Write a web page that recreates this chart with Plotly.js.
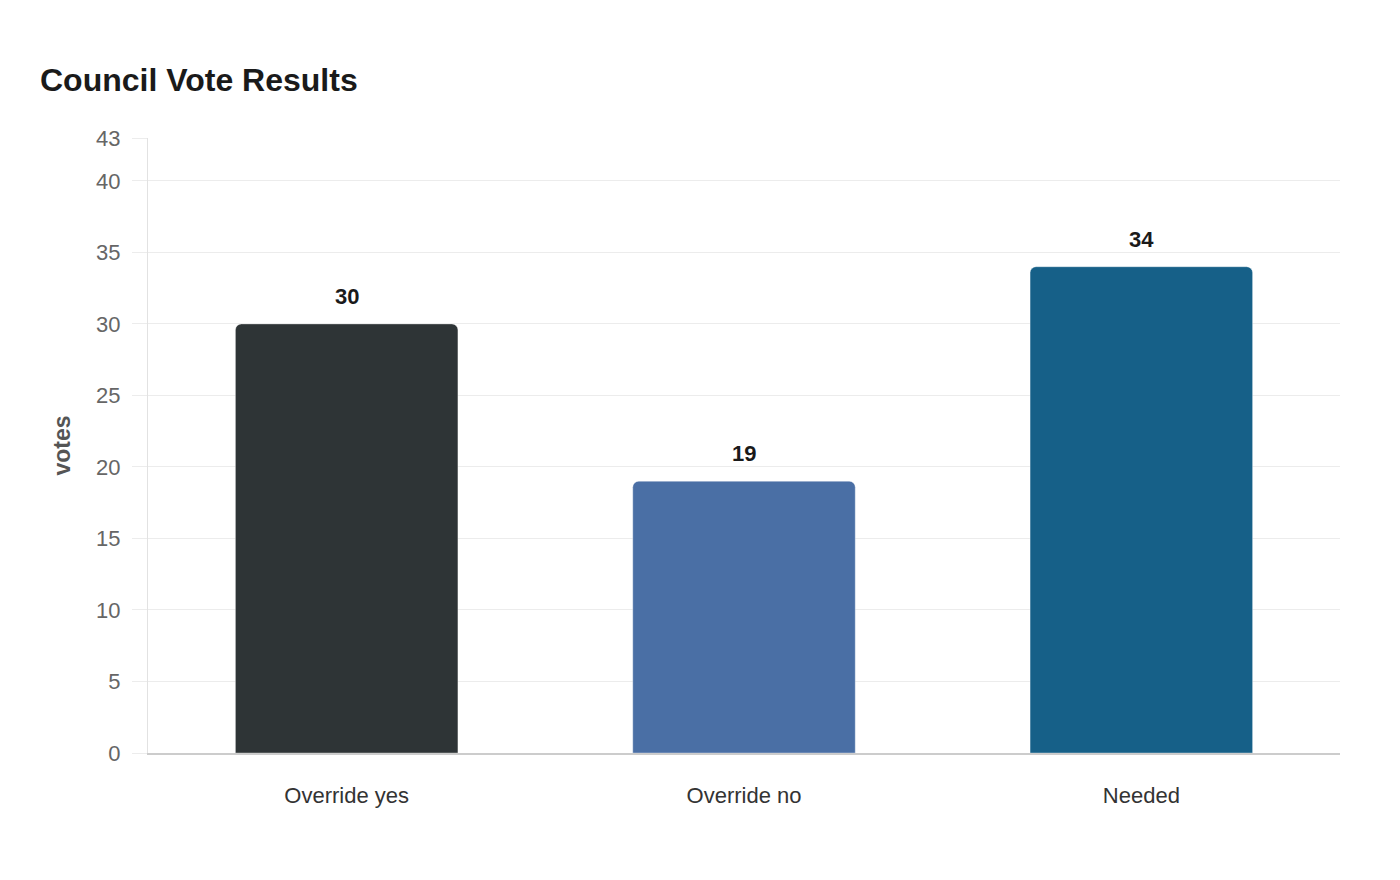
<!DOCTYPE html>
<html>
<head>
<meta charset="utf-8">
<script src="https://cdn.plot.ly/plotly-3.0.1.min.js"></script>
<style>
  html, body { margin: 0; padding: 0; background: #fff; }
  #chart { width: 1400px; height: 880px; }
</style>
</head>
<body>
<div id="chart"></div>
<script>
var categories = ['Override yes', 'Override no', 'Needed'];
var votes = [30, 19, 34];
var barColors = ['#2e3436', '#4a6fa5', '#166088'];
var yTicks = [0, 5, 10, 15, 20, 25, 30, 35, 40, 43];

var trace = {
  x: categories,
  y: votes,
  type: 'bar',
  marker: {
    color: barColors,
    cornerradius: 6,
    line: {color: 'rgba(255,255,255,0.35)', width: 1}
  },
  hoverinfo: 'x+y'
};

// value labels sit a bit above each bar
var labels = categories.map(function (c, i) {
  return {
    x: c, y: votes[i], text: String(votes[i]),
    xref: 'x', yref: 'y', yanchor: 'bottom', yshift: 13,
    showarrow: false,
    font: {family: 'Liberation Sans, Arial, sans-serif', size: 22, color: '#1a1a1a', weight: 'bold'}
  };
});

var layout = {
  width: 1400,
  height: 880,
  margin: {l: 148, r: 60, t: 138, b: 127},
  paper_bgcolor: '#fff',
  plot_bgcolor: '#fff',
  font: {family: 'Liberation Sans, Arial, sans-serif'},
  title: {
    text: '<b>Council Vote Results</b>',
    x: 40 / 1400, xref: 'container', xanchor: 'left',
    y: 0.909, yref: 'container', yanchor: 'middle',
    font: {size: 32, color: '#1a1a1a'}
  },
  bargap: 0.44,
  showlegend: false,
  xaxis: {
    showgrid: false,
    showline: true,
    linecolor: '#cccccc',
    linewidth: 1.5,
    ticks: '',
    tickfont: {size: 22, color: '#333333'},
    ticklabelstandoff: 22
  },
  yaxis: {
    range: [0, 43],
    tickvals: yTicks,
    showgrid: true,
    gridcolor: '#ececec',
    gridwidth: 1,
    zeroline: false,
    showline: true,
    linecolor: '#e2e2e2',
    linewidth: 1,
    ticks: 'outside',
    ticklen: 15,
    tickcolor: '#ececec',
    ticklabelstandoff: 7,
    tickfont: {size: 22, color: '#666666'},
    title: {
      text: '<b>votes</b>',
      standoff: 19,
      font: {size: 23, color: '#555555'}
    }
  },
  annotations: labels
};

Plotly.newPlot('chart', [trace], layout, {displayModeBar: false});
</script>
</body>
</html>
